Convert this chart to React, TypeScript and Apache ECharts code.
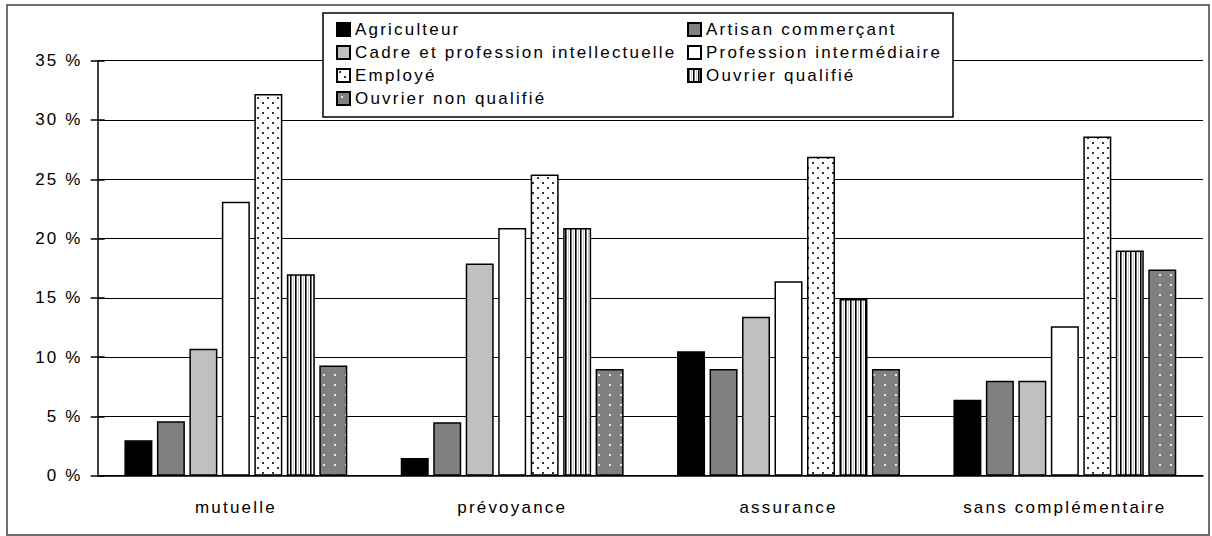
import React, { useEffect, useRef } from "react";
import * as echarts from "echarts";

const categories = ["mutuelle", "prévoyance", "assurance", "sans complémentaire"];
const seriesNames = [
  "Agriculteur",
  "Artisan commerçant",
  "Cadre et profession intellectuelle",
  "Profession intermédiaire",
  "Employé",
  "Ouvrier qualifié",
  "Ouvrier non qualifié",
];
const agriculteur = [3.0, 1.5, 10.5, 6.4];
const artisan = [4.6, 4.5, 9.0, 8.0];
const cadre = [10.7, 17.9, 13.4, 8.0];
const professionInter = [23.1, 20.9, 16.4, 12.6];
const employe = [32.2, 25.4, 26.9, 28.6];
const ouvrierQualifie = [17.0, 20.9, 14.9, 19.0];
const ouvrierNonQualifie = [9.3, 9.0, 9.0, 17.4];
const yTicks = { min: 0, max: 35, interval: 5 };

const FONT = "'Liberation Sans', Arial, sans-serif";

function makePattern(w: number, h: number, draw: (ctx: CanvasRenderingContext2D) => void) {
  const c = document.createElement("canvas");
  c.width = w;
  c.height = h;
  const ctx = c.getContext("2d")!;
  draw(ctx);
  return { image: c, repeat: "repeat", imageWidth: w, imageHeight: h } as any;
}

export default function App() {
  const ref = useRef<HTMLDivElement>(null);
  useEffect(() => {
    if (!ref.current) return;
    const chart = echarts.init(ref.current, undefined, { renderer: "svg" });

    const dotsPattern = makePattern(10, 10, (ctx) => {
      ctx.fillStyle = "#ffffff";
      ctx.fillRect(0, 0, 10, 10);
      ctx.fillStyle = "#333333";
      ctx.fillRect(2, 2, 2, 2);
      ctx.fillRect(7, 7, 2, 2);
    });
    const stripePattern = makePattern(5, 5, (ctx) => {
      ctx.fillStyle = "#ffffff";
      ctx.fillRect(0, 0, 5, 5);
      ctx.fillStyle = "#000000";
      ctx.fillRect(0, 0, 1, 5);
      ctx.fillStyle = "#6a6a6a";
      ctx.fillRect(1, 0, 1, 5);
      ctx.fillStyle = "#c8c8c8";
      ctx.fillRect(3, 0, 1, 5);
    });
    const greyDotsPattern = makePattern(11, 10, (ctx) => {
      ctx.fillStyle = "#808080";
      ctx.fillRect(0, 0, 11, 10);
      ctx.fillStyle = "#e8e8e8";
      ctx.fillRect(4, 4, 2, 2);
    });

    const values = [agriculteur, artisan, cadre, professionInter, employe, ouvrierQualifie, ouvrierNonQualifie];
    const fills: any[] = ["#000000", "#808080", "#c0c0c0", "#ffffff", dotsPattern, stripePattern, greyDotsPattern];

    const series = seriesNames.map((name, i) => ({
      name,
      type: "bar",
      data: values[i],
      barWidth: 28,
      barGap: "16%",
      xAxisIndex: 0,
      yAxisIndex: 0,
      itemStyle: { color: fills[i], borderColor: "#000000", borderWidth: 1.5 },
    }));

    const legendText = { fontFamily: FONT, fontSize: 17, lineHeight: 17, color: "#000" };

    chart.setOption({
      animation: false,
      backgroundColor: "#ffffff",
      textStyle: { fontFamily: FONT },
      grid: { left: 97.7, right: 9, top: 60.7, bottom: 60.3, containLabel: false },
      legend: [
        {
          data: [seriesNames[0], seriesNames[2], seriesNames[4], seriesNames[6]],
          orient: "vertical",
          left: 336,
          top: 21,
          padding: 0,
          itemWidth: 13,
          itemHeight: 13,
          itemGap: 6,
          icon: "rect",
          textStyle: legendText,
          selectedMode: false,
          z: 5,
        },
        {
          data: [seriesNames[1], seriesNames[3], seriesNames[5]],
          orient: "vertical",
          left: 687,
          top: 21,
          padding: 0,
          itemWidth: 13,
          itemHeight: 13,
          itemGap: 6,
          icon: "rect",
          textStyle: legendText,
          selectedMode: false,
          z: 5,
        },
      ],
      xAxis: [
        {
          type: "category",
          data: categories,
          position: "bottom",
          axisLine: { lineStyle: { color: "#000", width: 1.5 } },
          axisTick: { length: 7, lineStyle: { color: "#000", width: 1.5 } },
          axisLabel: { margin: 23, fontSize: 17, color: "#000", fontFamily: FONT },
        },
        {
          type: "category",
          data: categories,
          position: "bottom",
          axisLine: { show: false },
          axisTick: { inside: true, length: 6, lineStyle: { color: "#000", width: 1.5 } },
          axisLabel: { show: false },
          splitLine: { show: false },
        },
      ],
      yAxis: [
        {
          type: "value",
          min: yTicks.min,
          max: yTicks.max,
          interval: yTicks.interval,
          position: "left",
          axisLine: { show: true, lineStyle: { color: "#000", width: 1.5 } },
          axisTick: { show: true, length: 7, lineStyle: { color: "#000", width: 1.5 } },
          axisLabel: { formatter: "{value} %", margin: 15, fontSize: 17, color: "#000", fontFamily: FONT },
          splitLine: { show: true, lineStyle: { color: "#000", width: 1 } },
        },
        {
          type: "value",
          min: yTicks.min,
          max: yTicks.max,
          interval: yTicks.interval,
          position: "left",
          axisLine: { show: false },
          axisTick: { show: true, inside: true, length: 7, lineStyle: { color: "#000", width: 1.5 } },
          axisLabel: { show: false },
          splitLine: { show: false },
        },
      ],
      graphic: [
        {
          type: "rect",
          z: 0,
          shape: { x: 7, y: 5, width: 1202, height: 530 },
          style: { fill: "none", stroke: "#404040", lineWidth: 1.5 },
          silent: true,
        },
        {
          type: "rect",
          z: 3,
          shape: { x: 323, y: 13, width: 630, height: 104 },
          style: { fill: "#ffffff", stroke: "#000000", lineWidth: 1.5 },
          silent: true,
        },
      ],
      series,
    });
    return () => chart.dispose();
  }, []);
  return (
    <>
      <style>{"body{margin:0} #chartbox svg text{letter-spacing:2.2px}"}</style>
      <div id="chartbox" ref={ref} style={{ position: "fixed", left: 0, top: 0, width: 1212, height: 536 }} />
    </>
  );
}
